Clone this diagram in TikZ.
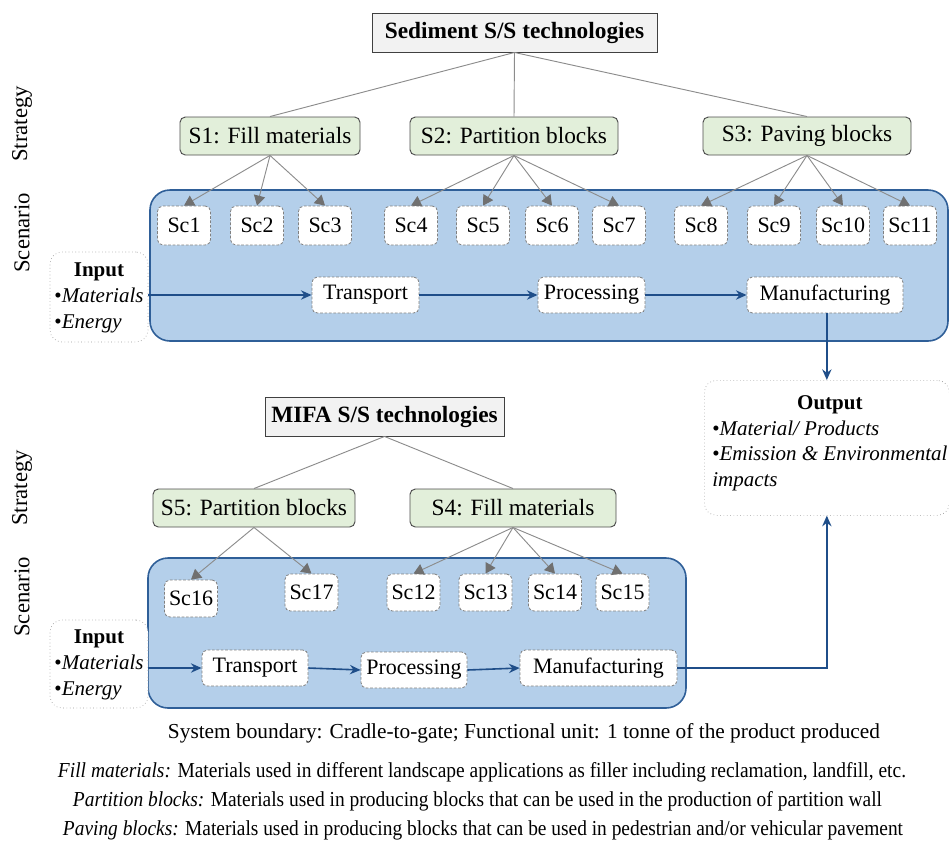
\documentclass[tikz,border=0pt]{standalone}
\usepackage{fontspec}
\usepackage{graphicx}
\setmainfont{Liberation Serif}
\usetikzlibrary{arrows.meta}
\definecolor{bfill}{HTML}{B4CFEA}
\definecolor{bline}{HTML}{2F5F98}
\definecolor{barrow}{HTML}{1F4E89}
\definecolor{gfill}{HTML}{E2EFDA}
\definecolor{tfill}{HTML}{F2F2F2}
\definecolor{gline}{HTML}{8C8C8C}
\definecolor{ghead}{HTML}{707070}
\begin{document}
\begin{tikzpicture}[x=0.75pt,y=-0.75pt,
  font=\fontsize{16.5}{19.5}\selectfont,
  titlebox/.style={draw=black!75, fill=tfill, font=\bfseries\fontsize{17.5}{20}\selectfont, minimum height=29.25pt, inner sep=0pt, line width=0.7pt},
  strat/.style={draw=black!70, fill=gfill, rounded corners=4pt, minimum height=28.5pt, inner sep=0pt, line width=0.7pt, font=\fontsize{17.5}{20}\selectfont},
  scbox/.style={draw=gray, dash pattern=on 2pt off 1.3pt, fill=white, rounded corners=4pt, minimum width=39.75pt, minimum height=29.25pt, inner sep=0pt, line width=0.6pt},
  proc/.style={draw=gray, dash pattern=on 2pt off 1.3pt, fill=white, rounded corners=4pt, minimum height=27pt, inner sep=0pt, line width=0.6pt},
  iobox/.style={draw=gray!80, dotted, fill=white, rounded corners=9pt, inner sep=0pt, line width=0.5pt},
  iotext/.style={font=\fontsize{15.75}{19.5}\selectfont},
  region/.style={draw=bline, fill=bfill, line width=1.2pt, rounded corners=15pt, inner sep=0pt},
  tree/.style={draw=gline, line width=0.7pt},
  sarr/.style={draw=gline, line width=0.7pt, -{Triangle[width=8.5pt,length=7.5pt,color=ghead]}},
  barr/.style={draw=barrow, line width=1.2pt, -{Stealth[length=8pt,width=7pt]}},
  sidelab/.style={rotate=90, font=\fontsize{17}{20}\selectfont},
  foot/.style={font=\fontsize{16}{18}\selectfont, inner sep=0pt}
]
\useasboundingbox (0,0) rectangle (949,843);

% side labels
\node[sidelab] (lstr1) at (22,124) {Strategy};
\node[sidelab] (lsce1) at (22,233) {Scenario};
\node[sidelab] (lstr2) at (22,488) {Strategy};
\node[sidelab] (lsce2) at (22,597) {Scenario};

% ===== upper part =====
\node[region, minimum width=598.5pt, minimum height=113.25pt] (reg1) at (549,265.5) {};
\node[titlebox, minimum width=213.75pt] (t1) at (514.5,32.5) {Sediment S/S technologies};
\node[strat, minimum width=135pt] (s1) at (270,136) {S1: Fill materials};
\node[strat, minimum width=156pt] (s2) at (514,136) {S2: Partition blocks};
\node[strat, minimum width=156pt] (s3) at (807,136) {S3: Paving blocks};
\draw[tree] (t1.south) -- (s1.north);
\draw[tree] (t1.south) -- (s2.north);
\draw[tree] (t1.south) -- (s3.north);

\node[scbox] (sc1) at (184,225.5) {Sc1};
\node[scbox] (sc2) at (257,225.5) {Sc2};
\node[scbox] (sc3) at (325,225.5) {Sc3};
\node[scbox] (sc4) at (411,225.5) {Sc4};
\node[scbox] (sc5) at (483,225.5) {Sc5};
\node[scbox] (sc6) at (552,225.5) {Sc6};
\node[scbox] (sc7) at (619,225.5) {Sc7};
\node[scbox] (sc8) at (701,225.5) {Sc8};
\node[scbox] (sc9) at (774,225.5) {Sc9};
\node[scbox] (sc10) at (843,225.5) {Sc10};
\node[scbox] (sc11) at (910,225.5) {Sc11};
\foreach \s in {1,2,3} \draw[sarr] (s1.south) -- (sc\s.north);
\foreach \s in {4,5,6,7} \draw[sarr] (s2.south) -- (sc\s.north);
\foreach \s in {8,9,10,11} \draw[sarr] (s3.south) -- (sc\s.north);

\node[iobox, iotext, minimum width=73.5pt, minimum height=67.5pt] (in1) at (99,297) {\begin{tabular}{@{}l@{}}\multicolumn{1}{@{}c@{}}{\textbf{Input}}\\ •\textit{Materials}\\ •\textit{Energy}\end{tabular}};
\node[proc, minimum width=80.25pt] (tr1) at (365.5,295) {Transport};
\node[proc, minimum width=80.25pt] (pr1) at (591.5,295) {Processing};
\node[proc, minimum width=117pt] (mf1) at (825,295) {Manufacturing};
\draw[barr] (in1.east |- tr1) -- (tr1.west);
\draw[barr] (tr1.east) -- (pr1.west);
\draw[barr] (pr1.east) -- (mf1.west);

\node[iobox, minimum width=183.75pt, minimum height=101.25pt, anchor=north west] (out) at (704,380) {};
\node[anchor=north west, inner sep=0pt, font=\fontsize{15.75}{19.3}\selectfont] (outtxt) at (712,391) {\begin{tabular}{@{}l@{}}\multicolumn{1}{@{}c@{}}{\textbf{Output}}\\ •\textit{Material/ Products}\\ •\textit{Emission \& Environmental}\\ \textit{impacts}\end{tabular}};
\draw[barr] (out.north |- mf1.south) -- (out.north);

% ===== lower part =====
\node[region, minimum width=403.5pt, minimum height=112.5pt] (reg2) at (417,633) {};
\node[titlebox, minimum width=179.25pt] (t2) at (384.5,416.5) {MIFA S/S technologies};
\node[strat, minimum width=151.5pt] (s5) at (254,508) {S5: Partition blocks};
\node[strat, minimum width=154.5pt] (s4) at (513,508) {S4: Fill materials};
\draw[tree] (t2.south) -- (s5.north);
\draw[tree] (t2.south) -- (s4.north);

\node[scbox, minimum height=27.75pt] (sc16) at (191,598.5) {Sc16};
\node[scbox, minimum height=27.75pt] (sc17) at (311.5,592.5) {Sc17};
\node[scbox, minimum height=27.75pt] (sc12) at (413.5,592.5) {Sc12};
\node[scbox, minimum height=27.75pt] (sc13) at (485.5,592.5) {Sc13};
\node[scbox, minimum height=27.75pt] (sc14) at (555,592.5) {Sc14};
\node[scbox, minimum height=27.75pt] (sc15) at (622.5,592.5) {Sc15};
\foreach \s in {16,17} \draw[sarr] (s5.south) -- (sc\s.north);
\foreach \s in {12,13,14,15} \draw[sarr] (s4.south) -- (sc\s.north);

\node[iobox, iotext, minimum width=73.5pt, minimum height=66pt] (in2) at (99,664) {\begin{tabular}{@{}l@{}}\multicolumn{1}{@{}c@{}}{\textbf{Input}}\\ •\textit{Materials}\\ •\textit{Energy}\end{tabular}};
\node[proc, minimum width=79.5pt] (tr2) at (255,668) {Transport};
\node[proc, minimum width=79.5pt] (pr2) at (414,670) {Processing};
\node[proc, minimum width=117.75pt] (mf2) at (598.5,668) {Manufacturing};
\draw[barr] (in2.east |- tr2) -- (tr2.west);
\draw[barr] (tr2.east) -- (pr2.west);
\draw[barr] (pr2.east) -- (mf2.west);
\draw[barr] (mf2.east) -| (out.south);

% ===== footnotes =====
\node[foot] (f0) at (524,733) {\resizebox{534pt}{\height}{System boundary: Cradle-to-gate; Functional unit: 1 tonne of the product produced}};
\node[foot] (f1) at (482,772) {\resizebox{636pt}{\height}{\textit{Fill materials:} Materials used in different landscape applications as filler including reclamation, landfill, etc.}};
\node[foot] (f2) at (477.5,801) {\resizebox{606.75pt}{\height}{\textit{Partition blocks:} Materials used in producing blocks that can be used in the production of partition wall}};
\node[foot] (f3) at (483,830) {\resizebox{630pt}{\height}{\textit{Paving blocks:} Materials used in producing blocks that can be used in pedestrian and/or vehicular pavement}};
\end{tikzpicture}
\end{document}
